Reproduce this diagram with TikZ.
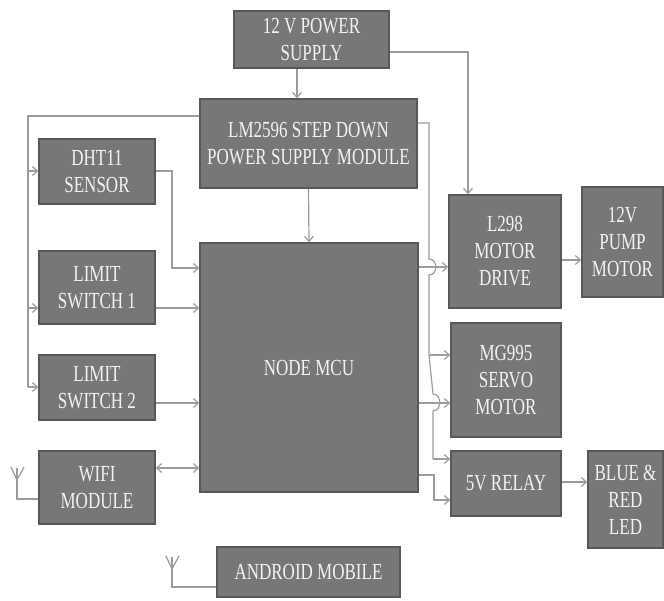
\documentclass[tikz,border=0pt]{standalone}
\usepackage{fontspec}
\setmainfont{Liberation Serif}[FakeStretch=0.74]
\usetikzlibrary{arrows.meta}
\definecolor{boxfill}{HTML}{777777}
\definecolor{boxline}{HTML}{585858}
\definecolor{wire}{HTML}{9C9C9C}
\definecolor{txt}{HTML}{F2F2F2}
\tikzset{
  blk/.style={draw=boxline, fill=boxfill, line width=1.6pt, text=txt, align=center,
    inner sep=0pt, font=\fontsize{23}{27}\selectfont},
  wr/.style={draw=wire, line width=1.2pt},
  arr/.style={wr, -{Straight Barb[length=5pt,width=9pt]}},
  darr/.style={wr, {Straight Barb[length=5pt,width=9pt]}-{Straight Barb[length=5pt,width=9pt]}},
}
\begin{document}
\begin{tikzpicture}[x=1pt,y=-1pt]
\useasboundingbox (0,0) rectangle (664,600);
% boxes
\node[blk, minimum width=155pt, minimum height=57pt] (ps) at (311.5,39.5) {12 V POWER\\SUPPLY};
\node[blk, minimum width=217pt, minimum height=89pt] (lm) at (308.5,143.5) {LM2596 STEP DOWN\\POWER SUPPLY MODULE};
\node[blk, minimum width=116pt, minimum height=65pt] (dht) at (97,171.5) {DHT11\\SENSOR};
\node[blk, minimum width=116pt, minimum height=73pt] (ls1) at (97,287.5) {LIMIT\\SWITCH 1};
\node[blk, minimum width=116pt, minimum height=65pt] (ls2) at (97,387.5) {LIMIT\\SWITCH 2};
\node[blk, minimum width=116pt, minimum height=73pt] (wifi) at (97,487.5) {WIFI\\MODULE};
\node[blk, minimum width=218pt, minimum height=249pt] (mcu) at (309,367.5) {NODE MCU};
\node[blk, minimum width=112pt, minimum height=113pt] (l298) at (505,251.5) {L298\\MOTOR\\DRIVE};
\node[blk, minimum width=81pt, minimum height=110pt] (pump) at (622.5,242) {12V\\PUMP\\MOTOR};
\node[blk, minimum width=110pt, minimum height=114pt] (mg) at (506,380) {MG995\\SERVO\\MOTOR};
\node[blk, minimum width=110pt, minimum height=65pt] (relay) at (506,483.5) {5V RELAY};
\node[blk, minimum width=75pt, minimum height=97pt] (led) at (625.5,499.5) {BLUE \&\\RED\\LED};
\node[blk, minimum width=183pt, minimum height=50pt] (android) at (308.5,572) {ANDROID MOBILE};
% power connections
\draw[arr] (297,68 |- ps.south) -- (297,99 |- lm.north);
\draw[arr] (ps.east |- 0,52) -- (468,52) -- (468,0 |- l298.north);
\draw[arr] (lm.south) -- (mcu.north);
\draw[wr] (lm.west |- 0,116) -- (28,116) -- (28,387);
\draw[arr] (28,171) -- (dht.west |- 0,171);
\draw[arr] (28,308) -- (ls1.west |- 0,308);
\draw[arr] (28,387) -- (ls2.west |- 0,387);
\coordinate (j1) at (429,355);
\coordinate (j2) at (433,459);
\draw[wr] (lm.east |- 0,123) -- (429,123) -- (429,259)
  .. controls (438,259) and (438,275) .. (429,275) -- (j1) -- (433,394)
  .. controls (442,394) and (442,411) .. (433,411) -- (j2);
\draw[arr] (j1) -- (mg.west |- j1);
\draw[arr] (j2) -- (relay.west |- j2);
% signal connections
\draw[arr] (dht.east |- 0,171) -- (172,171) -- (172,268) -- (mcu.west |- 0,268);
\draw[arr] (ls1.east |- 0,308) -- (mcu.west |- 0,308);
\draw[arr] (ls2.east |- 0,403) -- (mcu.west |- 0,403);
\draw[darr] (wifi.east |- 0,468) -- (mcu.west |- 0,468);
\draw[arr] (mcu.east |- 0,267) -- (l298.west |- 0,267);
\draw[arr] (mcu.east |- 0,403) -- (mg.west |- 0,403);
\draw[arr] (mcu.east |- 0,475) -- (434,475) -- (434,500) -- (relay.west |- 0,500);
\draw[arr] (l298.east |- 0,260) -- (pump.west |- 0,260);
\draw[arr] (relay.east |- 0,482) -- (led.west |- 0,482);
% antennas
\coordinate (a1) at (17,468);
\draw[wr] (wifi.west |- 0,499) -- (17,499) -- (a1);
\draw[wr] (11,467) -- (17,480) -- (24,467);
\coordinate (a2) at (172,557);
\draw[wr] (android.west |- 0,587) -- (172,587) -- (a2);
\draw[wr] (166,556) -- (172,569) -- (179,556);
\end{tikzpicture}
\end{document}
